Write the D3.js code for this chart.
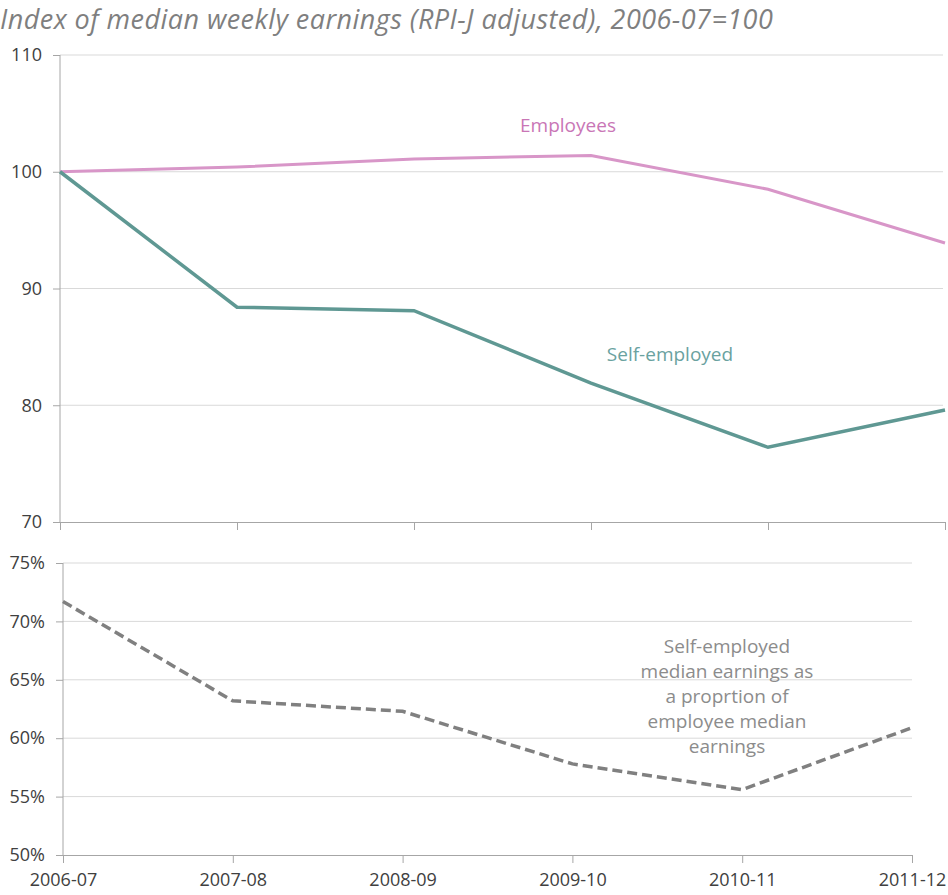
<!DOCTYPE html>
<html>
<head>
<meta charset="utf-8">
<script src="https://cdn.jsdelivr.net/npm/d3@7"></script>
<style>
  body { margin: 0; background: #fff; }
  svg { display: block; font-family: 'Open Sans', sans-serif; }
  .axis path, .axis line { stroke: #a6a6a6; }
  .axis text { fill: #404040; font-size: 18px; font-family: 'Open Sans', sans-serif; }
  .grid line { stroke: #d9d9d9; }
</style>
</head>
<body>
<div id="chart"></div>
<script>
/* Data */
const categories = ['2006-07', '2007-08', '2008-09', '2009-10', '2010-11', '2011-12'];
const employees = [100, 100.4, 101.1, 101.4, 98.5, 93.9];
const selfEmployed = [100, 88.4, 88.1, 81.9, 76.4, 79.6];
const proportion = [71.7, 63.2, 62.3, 57.8, 55.6, 60.9];
const indexTicks = [70, 80, 90, 100, 110];
const pctTicks = [50, 55, 60, 65, 70, 75];
const noteLines = ['Self-employed', 'median earnings as', 'a proprtion of', 'employee median', 'earnings'];

const width = 948;
const height = 895;

const svg = d3
  .select('#chart')
  .append('svg')
  .attr('width', width)
  .attr('height', height);

// Title
svg
  .append('text')
  .attr('x', 0)
  .attr('y', 29)
  .style('font-style', 'italic')
  .style('font-size', '27px')
  .style('letter-spacing', '0.45px')
  .style('fill', '#7f7f7f')
  .text('Index of median weekly earnings (RPI-J adjusted), 2006-07=100');

/* Top panel: index */
const xTop = d3.scalePoint().domain(categories).range([60, 945]);
const yTop = d3.scaleLinear().domain([70, 110]).range([522, 55]);

svg
  .append('g')
  .attr('class', 'grid')
  .selectAll('line')
  .data(indexTicks.filter((d) => d > 70))
  .join('line')
  .attr('x1', 60)
  .attr('x2', 943)
  .attr('y1', (d) => yTop(d))
  .attr('y2', (d) => yTop(d));

svg
  .append('g')
  .attr('class', 'axis')
  .attr('transform', 'translate(60,0)')
  .call(d3.axisLeft(yTop).tickValues(indexTicks).tickSize(7).tickSizeOuter(0).tickPadding(11))
  .call((g) => g.select('.domain').attr('d', `M0,${yTop(110)}V${yTop(70)}`));

svg
  .append('g')
  .attr('class', 'axis')
  .attr('transform', `translate(0,${yTop(70)})`)
  .call(d3.axisBottom(xTop).tickSize(8).tickSizeOuter(0).tickFormat(''));

const lineTop = (vals) =>
  d3
    .line()
    .x((d, i) => xTop(categories[i]))
    .y((d) => yTop(d))(vals);

svg
  .append('path')
  .attr('d', lineTop(employees))
  .attr('fill', 'none')
  .attr('stroke', '#d896c8')
  .attr('stroke-width', 3);

svg
  .append('path')
  .attr('d', lineTop(selfEmployed))
  .attr('fill', 'none')
  .attr('stroke', '#5f9893')
  .attr('stroke-width', 3.5);

svg
  .append('text')
  .attr('x', 568)
  .attr('y', yTop(103.4))
  .attr('text-anchor', 'middle')
  .style('font-size', '19px')
  .style('fill', '#c976b6')
  .text('Employees');

svg
  .append('text')
  .attr('x', 670)
  .attr('y', yTop(83.8))
  .attr('text-anchor', 'middle')
  .style('font-size', '19px')
  .style('fill', '#6aa29f')
  .text('Self-employed');

/* Bottom panel: proportion */
const xBot = d3.scalePoint().domain(categories).range([63, 912]);
const yBot = d3.scaleLinear().domain([50, 75]).range([855, 563]);

svg
  .append('g')
  .attr('class', 'grid')
  .selectAll('line')
  .data(pctTicks.filter((d) => d > 50))
  .join('line')
  .attr('x1', 63)
  .attr('x2', 912)
  .attr('y1', (d) => yBot(d))
  .attr('y2', (d) => yBot(d));

svg
  .append('g')
  .attr('class', 'axis')
  .attr('transform', 'translate(63,0)')
  .call(
    d3
      .axisLeft(yBot)
      .tickValues(pctTicks)
      .tickSize(7)
      .tickSizeOuter(0)
      .tickPadding(11)
      .tickFormat((d) => d + '%')
  )
  .call((g) => g.select('.domain').attr('d', `M0,${yBot(75)}V${yBot(50)}`));

svg
  .append('g')
  .attr('class', 'axis')
  .attr('transform', `translate(0,${yBot(50)})`)
  .call(d3.axisBottom(xBot).tickSize(8).tickSizeOuter(0).tickPadding(10));

svg
  .append('path')
  .attr(
    'd',
    d3
      .line()
      .x((d, i) => xBot(categories[i]))
      .y((d) => yBot(d))(proportion)
  )
  .attr('fill', 'none')
  .attr('stroke', '#808080')
  .attr('stroke-width', 3.5)
  .attr('stroke-dasharray', '10,5');

svg
  .append('g')
  .selectAll('text')
  .data(noteLines)
  .join('text')
  .attr('x', 727)
  .attr('y', (d, i) => 653 + i * 25)
  .attr('text-anchor', 'middle')
  .style('font-size', '19px')
  .style('fill', '#8c8c8c')
  .text((d) => d);
</script>
</body>
</html>
